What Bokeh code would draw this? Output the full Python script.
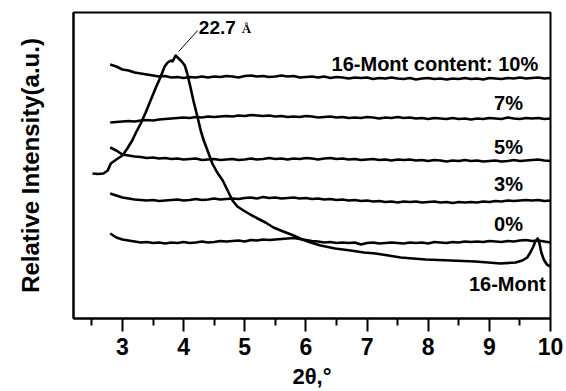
from bokeh.plotting import figure
from bokeh.models import FixedTicker, Label
from bokeh.embed import file_html
from bokeh.resources import INLINE

# 2-theta scan grid shared by the composite patterns (2.8 .. 10.0 deg, step 0.1)
two_theta = [round(2.8 + 0.1 * i, 1) for i in range(73)]

# Stacked (offset) intensities, arbitrary units
pct10 = [254, 252, 249, 248, 246, 245, 244, 243, 242, 242.5,
         241, 241.5, 240.5, 241.5, 241, 242, 241, 242, 241.5, 242.5,
         242, 241, 242.5, 243, 242, 242.5, 241.5, 242, 243, 242,
         242.5, 241, 241.5, 242, 241, 242, 240.5, 241.5, 241, 240,
         241, 240.5, 241, 239.5, 240.5, 240, 241, 240, 239.5, 240.5,
         239, 240, 240.5, 239.5, 240, 239, 240, 239.5, 240.5, 239.5,
         240, 239, 240.5, 240, 239.5, 240.5, 240, 241, 240, 240.5,
         241, 240, 240.5]

pct7 = [196, 196.5, 197, 197.5, 197, 198, 198.5, 198, 199, 199.5,
        200, 200.5, 201, 200.5, 201.5, 201, 202, 201.5, 202, 202.5,
        202, 203, 202.5, 203.5, 203, 202.5, 203, 202, 202.5, 201.5,
        202, 201.5, 202.5, 202, 201, 201.5, 202, 201, 201.5, 200.5,
        201, 200.5, 201.5, 201, 200, 201, 200.5, 201.5, 200.5, 201,
        200, 200.5, 199.5, 200.5, 200, 199.5, 200.5, 199.5, 200, 199,
        200, 199.5, 200.5, 200, 199.5, 201, 200, 199.5, 200.5, 200,
        200.5, 199.5, 200]

pct5 = [171, 168, 164, 163, 162, 161.5, 160.5, 161, 160, 160.5,
        159.5, 160, 159, 159.5, 160, 158.5, 159, 159.5, 158.5, 159,
        159.5, 158.5, 159, 160, 159, 159.5, 160.5, 159.5, 160, 159,
        160, 159.5, 160.5, 160, 159, 160, 160.5, 159.5, 160, 159,
        159.5, 158.5, 159, 159.5, 158.5, 159, 158, 159, 158.5, 159,
        158, 158.5, 157.5, 158.5, 158, 157, 158, 157.5, 158.5, 157.5,
        158, 157, 157.5, 158, 157, 157.5, 158.5, 157.5, 158, 158.5,
        159, 158, 157.5]

pct3 = [125, 123, 121, 120, 119, 118.5, 118, 118.5, 117.5, 118,
        118.5, 119, 118, 118.5, 119.5, 118.5, 119, 120, 119, 119.5,
        120, 119.5, 120.5, 121, 120, 121.5, 120.5, 121, 120, 120.5,
        121, 120, 120.5, 119.5, 120, 119, 119.5, 118.5, 119, 118,
        118.5, 117.5, 118, 117, 117.5, 116.5, 117, 116, 117, 116.5,
        117, 116, 116.5, 117, 116, 116.5, 115.5, 116.5, 116, 116.5,
        116, 117, 116.5, 117.5, 117, 118, 117.5, 118, 118.5, 118,
        118.5, 117.5, 118]

pct0 = [85, 81, 79, 78, 77, 76, 76.5, 75.5, 76, 75,
        76, 75.5, 76.5, 75.5, 76, 77, 76, 76.5, 77.5, 77,
        77.5, 78, 77, 78.5, 78, 79, 78.5, 79, 79.5, 80,
        80.5, 79.5, 78.5, 77.5, 77, 76, 76.5, 75.5, 76, 75.5,
        76, 74, 75.5, 76, 75, 75.5, 76, 75.5, 75, 76,
        75.5, 76, 75, 76.5, 76, 75.5, 76.5, 76, 77, 76.5,
        77, 76.5, 77.5, 77, 76.5, 77.5, 77, 78, 78.5, 77.5,
        78, 77, 76]

# Organoclay (16-Mont) pattern
mont_theta = [2.51, 2.60, 2.69, 2.76, 2.81, 2.90, 3.00, 3.08, 3.16, 3.23,
              3.30, 3.38, 3.46, 3.54, 3.62, 3.69, 3.74, 3.79, 3.82, 3.87,
              3.92, 3.97, 4.02, 4.06, 4.11, 4.16, 4.23, 4.28, 4.33, 4.41,
              4.47, 4.55, 4.64, 4.72, 4.80, 4.88, 4.98, 5.09, 5.21, 5.34,
              5.47, 5.63, 5.80, 5.94, 6.08, 6.24, 6.48, 6.73, 6.95, 7.14,
              7.35, 7.55, 7.75, 7.96, 8.17, 8.37, 8.57, 8.77, 8.98, 9.18,
              9.43, 9.54, 9.62, 9.67, 9.72, 9.75, 9.79, 9.82, 9.85, 9.89,
              9.94, 10.0]
mont_int = [145, 144.5, 145, 148, 155, 159, 163, 170, 178, 187,
            195, 206, 218, 230, 241, 252, 256, 258, 257, 263,
            260, 257, 253, 245, 232, 218, 201, 188, 178, 165,
            155, 146, 138, 128, 118, 112, 108, 104, 100, 96,
            91, 87, 83, 79, 76, 73, 70, 68, 66, 65,
            63, 61, 60, 59, 58.5, 58, 57.5, 57, 56, 55,
            56, 58, 61, 66, 72, 77, 80, 75, 66, 59,
            54, 52]

series = [pct10, pct7, pct5, pct3, pct0]
series_labels = ["16-Mont content: 10%", "7%", "5%", "3%", "0%"]
label_x = [9.80, 9.55, 9.55, 9.55, 9.55]
label_y = [255, 216, 172, 135, 95]

major_ticks = [3, 4, 5, 6, 7, 8, 9, 10]
minor_ticks = [2.5, 3.5, 4.5, 5.5, 6.5, 7.5, 8.5, 9.5]

FONT = "Liberation Sans"

p = figure(width=566, height=391, x_range=(2.2, 10.0), y_range=(0, 306),
           output_backend="svg", toolbar_location=None,
           min_border_left=73, min_border_right=16,
           min_border_top=12, min_border_bottom=73)
p.grid.visible = False
p.outline_line_color = "black"
p.outline_line_width = 2
p.background_fill_color = "white"
p.border_fill_color = "white"

for ys in series:
    p.line(two_theta, ys, line_color="black", line_width=2.6, line_join="round")
p.line(mont_theta, mont_int, line_color="black", line_width=2.6, line_join="round")

for txt, lx, ly in zip(series_labels, label_x, label_y):
    p.add_layout(Label(x=lx, y=ly, text=txt, text_align="right", text_baseline="middle",
                       text_font=FONT, text_font_style="bold", text_font_size="20px",
                       text_color="black"))
p.add_layout(Label(x=9.92, y=35, text="16-Mont", text_align="right", text_baseline="middle",
                   text_font=FONT, text_font_style="bold", text_font_size="20px",
                   text_color="black"))

# basal spacing annotation on the organoclay peak
peak_i = max(range(len(mont_int)), key=lambda i: mont_int[i])
px, py = mont_theta[peak_i], mont_int[peak_i]
p.segment(x0=[px + 0.05], y0=[py + 4], x1=[px + 0.36], y1=[py + 25],
          line_color="black", line_width=1)
p.add_layout(Label(x=px + 0.38, y=py + 28, text="22.7", text_align="left", text_baseline="middle",
                   text_font=FONT, text_font_style="bold", text_font_size="19px",
                   text_color="black"))
p.add_layout(Label(x=px + 1.08, y=py + 27, text="Å", text_align="left", text_baseline="middle",
                   text_font="Liberation Serif", text_font_style="bold", text_font_size="13px",
                   text_color="black"))

xa = p.xaxis[0]
xa.ticker = FixedTicker(ticks=major_ticks, minor_ticks=minor_ticks)
xa.axis_line_width = 2
xa.major_tick_line_width = 2
xa.minor_tick_line_width = 2
xa.major_tick_in = 0
xa.major_tick_out = 13
xa.minor_tick_in = 0
xa.minor_tick_out = 7
xa.major_label_standoff = 6
xa.major_label_text_font = FONT
xa.major_label_text_font_style = "bold"
xa.major_label_text_font_size = "23px"
xa.major_label_text_color = "black"
xa.axis_label = "2θ,°"
xa.axis_label_standoff = 6
xa.axis_label_text_font = FONT
xa.axis_label_text_font_style = "bold"
xa.axis_label_text_font_size = "22px"
xa.axis_label_text_color = "black"

ya = p.yaxis[0]
ya.ticker = FixedTicker(ticks=[])
ya.axis_line_width = 2
ya.major_tick_line_color = None
ya.minor_tick_line_color = None
ya.axis_label = "Relative Intensity(a.u.)"
ya.axis_label_standoff = 30
ya.axis_label_text_font = FONT
ya.axis_label_text_font_style = "bold"
ya.axis_label_text_font_size = "24px"
ya.axis_label_text_color = "black"

open("out.html", "w").write(file_html(p, INLINE))
